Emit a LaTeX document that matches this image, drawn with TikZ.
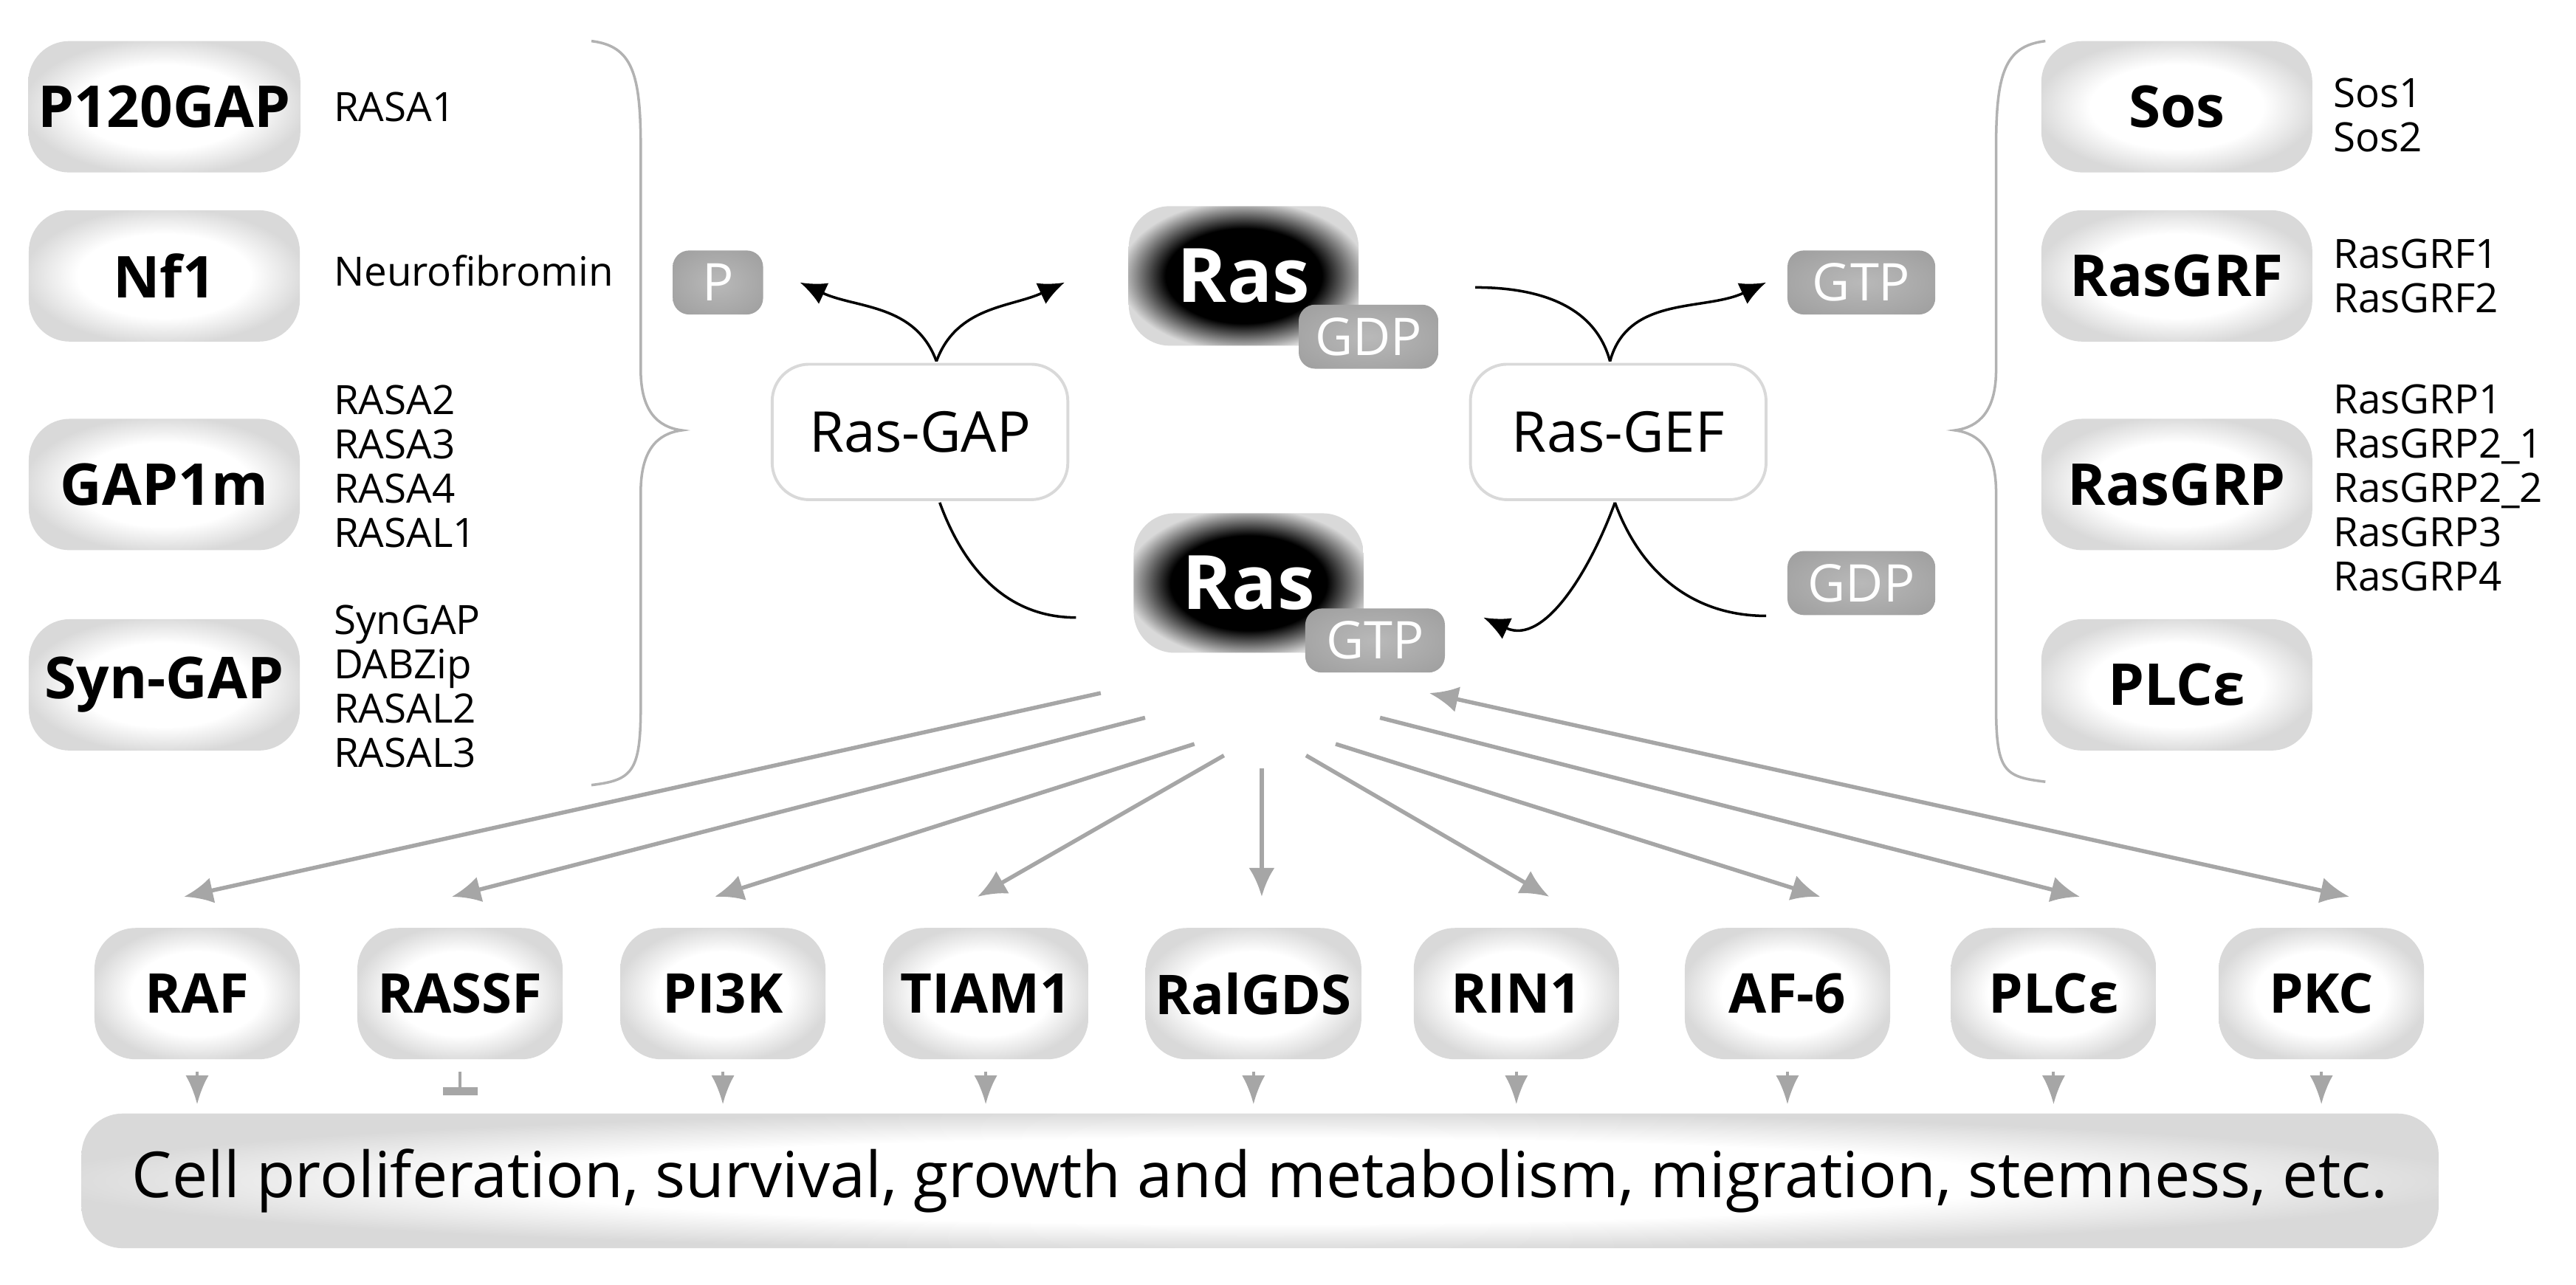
\documentclass[tikz,border=0pt]{standalone}
\usepackage{fontspec}
\setmainfont{Open Sans}
\usetikzlibrary{arrows.meta,positioning}

\pgfdeclareradialshading{boxglow}{\pgfpoint{0bp}{0bp}}{color(0bp)=(white); color(16bp)=(white); color(26bp)=(gray!30); color(50bp)=(gray!30)}
\pgfdeclareradialshading{rasglow}{\pgfpoint{0bp}{0bp}}{color(0bp)=(black); color(17bp)=(black); color(27bp)=(gray!30); color(50bp)=(gray!30)}
\pgfdeclareradialshading{tagglow}{\pgfpoint{0bp}{0bp}}{color(0bp)=(gray!55); color(50bp)=(gray!85)}

\tikzset{
  prot/.style={rounded corners=0.5cm, shading=boxglow, minimum width=3.3cm, minimum height=1.6cm, font=\bfseries\fontsize{20}{20}\selectfont},
  eff/.style={prot, minimum width=2.5cm, font=\bfseries\fontsize{19}{19}\selectfont},
  ras/.style={rounded corners=0.5cm, shading=rasglow, minimum width=2.8cm, minimum height=1.7cm, text=white, font=\bfseries\fontsize{26}{26}\selectfont},
  tag/.style={rounded corners=0.2cm, shading=tagglow, text=white, minimum height=0.78cm, inner xsep=2pt, font=\fontsize{18}{18}\selectfont},
  enz/.style={draw=gray!30, line width=1pt, rounded corners=0.45cm, fill=white, minimum width=3.6cm, minimum height=1.65cm, font=\fontsize{19.5}{19.5}\selectfont},
  gene/.style={anchor=west, align=left, font=\fontsize{14}{15.4}\selectfont},
  cyc/.style={line width=0.9pt, -{Latex[length=9pt,width=8pt]}},
  eff arr/.style={gray!70, line width=1.4pt, -{Latex[length=10pt,width=9pt]}},
}

\begin{document}
\begin{tikzpicture}[x=0.02cm,y=-0.02cm]
\useasboundingbox (0,0) rectangle (1568,782);

% left: GAP families
\node[prot] (p120) at (100,65) {P120GAP};
\node[prot] (nf1) at (100,168) {Nf1};
\node[prot] (gap1m) at (100,295) {GAP1m};
\node[prot] (syngap) at (100,417) {Syn-GAP};
\node[gene] (l1) at (197,65) {RASA1};
\node[gene] (l2) at (197,165) {Neurofibromin};
\node[gene] (l3) at (197,284) {RASA2\\RASA3\\RASA4\\RASAL1};
\node[gene] (l4) at (197,418) {SynGAP\\DABZip\\RASAL2\\RASAL3};
\draw[gray!60, line width=0.9pt] (360,25) .. controls (385,28) and (390,45) .. (390,90) -- (390,225)
  .. controls (390,250) and (400,260) .. (415,262) .. controls (400,264) and (390,274) .. (390,300)
  -- (390,430) .. controls (390,470) and (385,475) .. (360,478);

% right: GEF families
\node[prot] (sos) at (1325,65) {Sos};
\node[prot] (rasgrf) at (1325,168) {RasGRF};
\node[prot] (rasgrp) at (1325,295) {RasGRP};
\node[prot] (plce) at (1325,417) {PLCε};
\node[gene] (r1) at (1414,70) {Sos1\\Sos2};
\node[gene] (r2) at (1414,168) {RasGRF1\\RasGRF2};
\node[gene] (r3) at (1414,297) {RasGRP1\\RasGRP2\_1\\RasGRP2\_2\\RasGRP3\\RasGRP4};
\draw[gray!60, line width=0.9pt] (1245,25) .. controls (1220,28) and (1215,45) .. (1215,90) -- (1215,225)
  .. controls (1215,250) and (1205,260) .. (1190,262) .. controls (1205,264) and (1215,274) .. (1215,300)
  -- (1215,430) .. controls (1215,470) and (1220,473) .. (1245,476);

% centre: Ras cycle
\node[ras] (rasgdp) at (757,168) {Ras};
\node[tag, minimum width=1.7cm] (gdp) at (833,205) {GDP};
\node[ras] (rasgtp) at (760,355) {Ras};
\node[tag, minimum width=1.7cm] (gtp) at (837,390) {GTP};
\node[tag, minimum width=1.1cm] (pi) at (437,172) {P};
\node[tag, minimum width=1.8cm] (gtpin) at (1133,172) {GTP};
\node[tag, minimum width=1.8cm] (gdpout) at (1133,355) {GDP};
\node[enz] (gap) at (560,263) {Ras-GAP};
\node[enz] (gef) at (985,263) {Ras-GEF};

\coordinate (gapT) at (570,220);
\coordinate (gapB) at (572,306);
\coordinate (pEnd) at (487,172);
\coordinate (gdpEnd) at (648,172);
\coordinate (gtpStart) at (655,376);
\draw[cyc] (gapT) to[out=110,in=-25] (pEnd);
\draw[cyc] (gapT) to[out=70,in=205] (gdpEnd);
\draw[line width=0.9pt] (gapB) to[out=-70,in=180] (gtpStart);

\coordinate (gefT) at (980,220);
\coordinate (gefB) at (983,306);
\coordinate (gdpStart) at (898,175);
\coordinate (gtpEnd) at (1075,172);
\coordinate (rasEnd) at (903,376);
\coordinate (gdpIn) at (1075,375);
\draw[line width=0.9pt] (gdpStart) to[out=0,in=105] (gefT);
\draw[cyc] (gefT) to[out=75,in=205] (gtpEnd);
\draw[cyc] (gefB) to[out=250,in=-25] (rasEnd);
\draw[line width=0.9pt] (gefB) to[out=-70,in=180] (gdpIn);

% effectors
\node[eff] (raf) at (120,605) {RAF};
\node[eff] (rassf) at (280,605) {RASSF};
\node[eff] (pi3k) at (440,605) {PI3K};
\node[eff] (tiam) at (600,605) {TIAM1};
\node[eff] (ralgds) at (763,605) {RalGDS};
\node[eff] (rin) at (923,605) {RIN1};
\node[eff] (af) at (1088,605) {AF-6};
\node[eff] (plc) at (1250,605) {PLCε};
\node[eff] (pkc) at (1413,605) {PKC};

\foreach \n/\sx/\sy/\ex in {raf/670/422/112, rassf/697/437/275, pi3k/727/453/435,
    tiam/745/460/595, ralgds/768/468/768, rin/795/460/943, af/813/453/1108, plc/840/437/1266}{
  \coordinate (s-\n) at (\sx,\sy);
  \coordinate (e-\n) at (\ex,546);
  \draw[eff arr] (s-\n) -- (e-\n);
}
\coordinate (s-pkc) at (870,422);
\coordinate (e-pkc) at (1430,546);
\draw[eff arr, {Latex[length=10pt,width=9pt]}-{Latex[length=10pt,width=9pt]}] (s-pkc) -- (e-pkc);

% outcome
\node[rounded corners=0.5cm, shading=boxglow, minimum width=28.7cm, minimum height=1.64cm,
  font=\fontsize{22}{22}\selectfont] (cell) at (767,719) {Cell proliferation, survival, growth and metabolism, migration, stemness, etc.};
\foreach \n in {raf,pi3k,tiam,ralgds,rin,af,plc,pkc}
  \draw[gray!70, line width=1pt, -{Latex[length=10pt,width=8pt]}, shorten <=4pt, shorten >=3pt] (\n.south) -- (\n.south |- cell.north);
\draw[gray!70, line width=1pt, -{Bar[width=12pt,line width=3pt]}, shorten <=4pt, shorten >=6pt] (rassf.south) -- (rassf.south |- cell.north);
\end{tikzpicture}
\end{document}
